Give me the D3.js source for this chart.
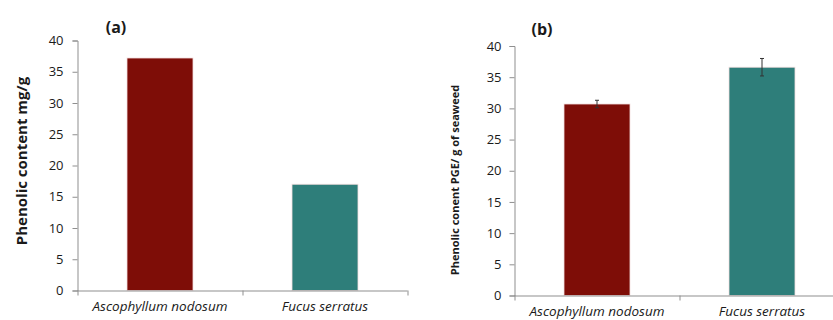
<!DOCTYPE html>
<html>
<head>
<meta charset="utf-8">
<script src="https://cdn.jsdelivr.net/npm/d3@7"></script>
<style>
	body { margin: 0; background: #fff; }
	svg { display: block; }
	text { font-family: "Open Sans", sans-serif; fill: #1a1a1a; }
</style>
</head>
<body>
<svg id="chart"></svg>
<script>
'use strict'

var WIDTH = 833,
	HEIGHT = 320;

// data
var species = ["Ascophyllum nodosum", "Fucus serratus"];
var contentA = [37.2, 17.0];
var contentB = [30.7, 36.6];
var errorB = [0.6, 1.4];
var yTicks = [0, 5, 10, 15, 20, 25, 30, 35, 40];
var barColors = ["#7e0d07", "#2e7e7a"];

var axisColor = "#8f8f8f";

var svg = d3.select("#chart")
	.attr("width", WIDTH)
	.attr("height", HEIGHT);

svg.append("rect")
	.attr("width", WIDTH)
	.attr("height", HEIGHT)
	.style("fill", "#fff");

function drawPanel(opt) {
	var g = svg.append("g");

	var x = d3.scaleBand()
		.domain(species)
		.range([opt.left, opt.right])
		.paddingInner(0.6)
		.paddingOuter(0.3);

	var y = d3.scaleLinear()
		.domain([0, 40])
		.range([opt.bottom, opt.top]);

	// y axis
	var yAxis = g.append("g")
		.attr("transform", "translate(" + opt.left + ",0)")
		.call(d3.axisLeft(y).tickValues(yTicks).tickSize(5).tickPadding(opt.tickPad));
	yAxis.select(".domain").attr("stroke", axisColor);
	yAxis.selectAll(".tick line").attr("stroke", axisColor);
	yAxis.selectAll(".tick text")
		.style("font-size", "13px")
		.style("fill", "#1a1a1a");

	// bars
	g.selectAll(".bar")
		.data(opt.values)
		.enter()
		.append("rect")
		.attr("x", function (d, i) { return x(species[i]); })
		.attr("y", function (d) { return y(d); })
		.attr("width", x.bandwidth())
		.attr("height", function (d) { return y(0) - y(d); })
		.style("fill", function (d, i) { return barColors[i]; })
		.style("stroke", "#f3dede")
		.style("stroke-width", 0.8);

	// error bars
	if (opt.errors) {
		opt.errors.forEach(function (e, i) {
			var cx = x(species[i]) + x.bandwidth() / 2;
			var v = opt.values[i];
			g.append("line")
				.attr("x1", cx).attr("x2", cx)
				.attr("y1", y(v + e)).attr("y2", y(v - e))
				.style("stroke", "#333").style("stroke-width", 1);
			[v + e, v - e].forEach(function (w) {
				g.append("line")
					.attr("x1", cx - 2).attr("x2", cx + 2)
					.attr("y1", y(w)).attr("y2", y(w))
					.style("stroke", "#333").style("stroke-width", 1);
			});
		});
	}

	// x axis (Excel style: ticks between categories)
	var bounds = d3.range(species.length + 1).map(function (i) {
		return opt.left + i * x.step();
	});
	g.append("line")
		.attr("x1", opt.left).attr("x2", opt.left + species.length * x.step())
		.attr("y1", y(0) + 0.5).attr("y2", y(0) + 0.5)
		.style("stroke", axisColor);
	g.selectAll(".xtick")
		.data(bounds)
		.enter()
		.append("line")
		.attr("x1", function (d) { return d + 0.5; })
		.attr("x2", function (d) { return d + 0.5; })
		.attr("y1", y(0))
		.attr("y2", y(0) + 5)
		.style("stroke", axisColor);

	g.selectAll(".xlabel")
		.data(species)
		.enter()
		.append("text")
		.attr("x", function (d) { return x(d) + x.bandwidth() / 2; })
		.attr("y", opt.labelY)
		.attr("text-anchor", "middle")
		.style("font-style", "italic")
		.style("font-size", "13.5px")
		.text(function (d) { return d; });

	// y title
	g.append("text")
		.attr("transform", "translate(" + opt.titleX + "," + opt.titleY + ") rotate(-90)")
		.attr("text-anchor", "middle")
		.style("font-weight", "bold")
		.style("font-size", opt.titleSize)
		.text(opt.title);

	// panel letter
	g.append("text")
		.attr("x", opt.tagX)
		.attr("y", opt.tagY)
		.attr("text-anchor", "middle")
		.style("font-weight", "bold")
		.style("font-size", "16px")
		.text(opt.tag);
}

drawPanel({
	left: 77.5, right: 407.5, top: 40.5, bottom: 290.5,
	values: contentA,
	tickPad: 9,
	labelY: 311,
	title: "Phenolic content mg/g",
	titleX: 27, titleY: 161, titleSize: "15px",
	tag: "(a)", tagX: 116, tagY: 33
});

drawPanel({
	left: 514.5, right: 844.5, top: 46, bottom: 295.5,
	values: contentB,
	errors: errorB,
	tickPad: 8,
	labelY: 316,
	title: "Phenolic conent PGE/ g of seaweed",
	titleX: 459, titleY: 180, titleSize: "11px",
	tag: "(b)", tagX: 542, tagY: 35
});
</script>
</body>
</html>
